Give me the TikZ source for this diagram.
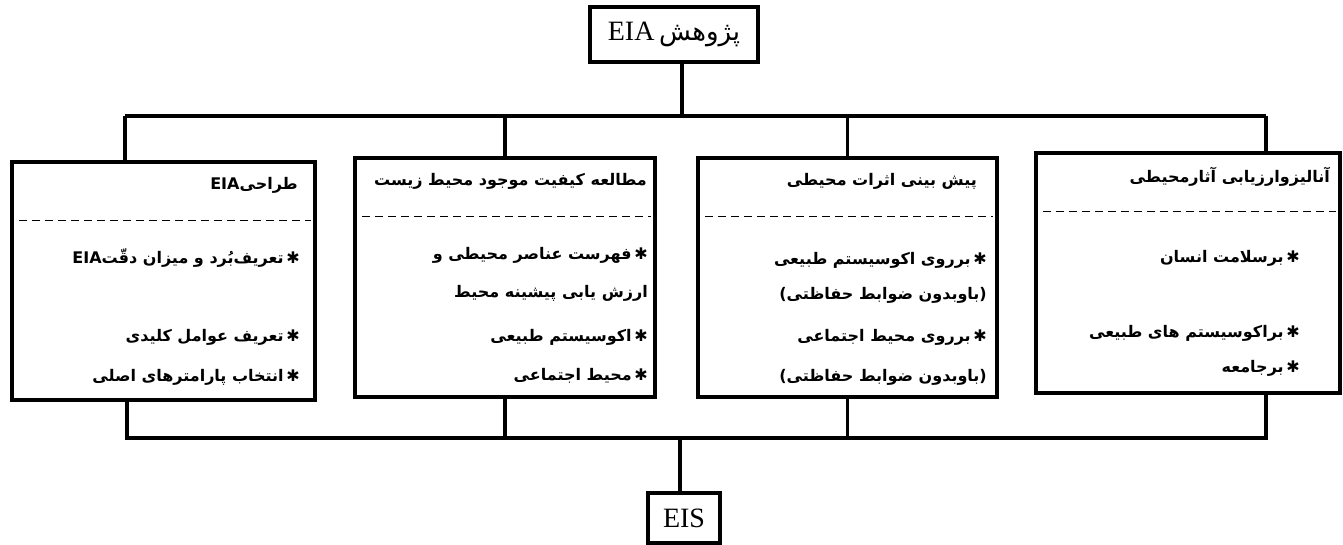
\documentclass[tikz,border=0pt]{standalone}
\usepackage{fontspec}
\setmainfont{Liberation Serif}
\newfontfamily\fa[Script=Arabic]{DejaVu Sans}
\TeXXeTstate=1
\usetikzlibrary{calc}
\newcommand\bul{✱\,}
\begin{document}
\begin{tikzpicture}[x=1pt,y=-1pt,
  box/.style={draw, line width=3.5pt, inner sep=0pt},
  wire/.style={line width=3.2pt},
  sepline/.style={line width=1.4pt, dash pattern=on 8pt off 5pt},
  txt/.style={anchor=east, inner sep=0pt, font=\fa\bfseries\fontsize{16}{18}\selectfont}
]
\useasboundingbox (0,0) rectangle (1343,545);
% boxes
\node[box, minimum width=168pt, minimum height=55pt] (top) at (674,34.5) {};
\node[box, minimum width=303pt, minimum height=238pt] (b1) at (163.5,281) {};
\node[box, minimum width=300pt, minimum height=239pt] (b2) at (505,277.5) {};
\node[box, minimum width=299pt, minimum height=239pt] (b3) at (847.5,277.5) {};
\node[box, minimum width=304pt, minimum height=240pt] (b4) at (1188,273) {};
\node[box, minimum width=72pt, minimum height=50pt] (eis) at (684,518) {};
% top and EIS labels
\node[inner sep=0pt, font=\fontsize{28}{30}\selectfont] (topt) at (top.center) {\beginR{\fa\fontsize{26}{28}\selectfont پژوهش}\,\beginL EIA\endL\endR};
\node[inner sep=0pt, font=\fontsize{28}{30}\selectfont] (eist) at (eis.center) {EIS};
% separators
\foreach \b in {b1,b2,b3,b4}{
  \draw[sepline] ($(\b.north west)+(9,60)$) -- ($(\b.north east)+(-6,60)$);
}
% box 1
\node[txt] (b1t) at (298,185) {\beginR طراحی\beginL EIA\endL\endR};
\node[txt] (b1a) at (300,258) {\beginR\bul تعریف‌بُرد و میزان دقّت\beginL EIA\endL\endR};
\node[txt] (b1b) at (300,337) {\beginR\bul تعریف عوامل کلیدی\endR};
\node[txt] (b1c) at (300,377) {\beginR\bul انتخاب پارامترهای اصلی\endR};
% box 2
\node[txt] (b2t) at (647,181) {\beginR مطالعه کیفیت موجود محیط زیست\endR};
\node[txt] (b2a) at (648,255) {\beginR\bul فهرست عناصر محیطی و\endR};
\node[txt] (b2b) at (648,293) {\beginR ارزش یابی پیشینه محیط\endR};
\node[txt] (b2c) at (648,337) {\beginR\bul اکوسیستم طبیعی\endR};
\node[txt] (b2d) at (648,376) {\beginR\bul محیط اجتماعی\endR};
% box 3
\node[txt] (b3t) at (977,181) {\beginR پیش بینی اثرات محیطی\endR};
\node[txt] (b3a) at (987,260) {\beginR\bul برروی اکوسیستم طبیعی\endR};
\node[txt] (b3b) at (987,295) {\beginR (باوبدون ضوابط حفاظتی)\endR};
\node[txt] (b3c) at (987,337) {\beginR\bul برروی محیط اجتماعی\endR};
\node[txt] (b3d) at (987,377) {\beginR (باوبدون ضوابط حفاظتی)\endR};
% box 4
\node[txt] (b4t) at (1330,177) {\beginR آنالیزوارزیابی آثارمحیطی\endR};
\node[txt] (b4a) at (1300,258) {\beginR\bul برسلامت انسان\endR};
\node[txt] (b4b) at (1300,333) {\beginR\bul براکوسیستم های طبیعی\endR};
\node[txt] (b4c) at (1300,368) {\beginR\bul برجامعه\endR};
% connectors
\coordinate (tj) at (682,116);
\coordinate (tL) at (125,116);
\coordinate (tR) at (1266,116);
\draw[wire] (top.south -| tj) -- (tj);
\draw[wire] (tL) -- (tR);
\draw[wire] (tL) -- (b1.north -| tL);
\draw[wire] (b2.north |- tL) -- (b2.north);
\draw[wire] (b3.north |- tL) -- (b3.north);
\draw[wire] (tR) -- (b4.north -| tR);
\coordinate (bL) at (127,438);
\coordinate (bR) at (1266,438);
\coordinate (bM) at (680,438);
\draw[wire] (b1.south -| bL) -- (bL) -- (bR) -- (b4.south -| bR);
\draw[wire] (b2.south) -- (b2.south |- bL);
\draw[wire] (b3.south) -- (b3.south |- bL);
\draw[wire] (bM) -- (eis.north -| bM);
\end{tikzpicture}
\end{document}
